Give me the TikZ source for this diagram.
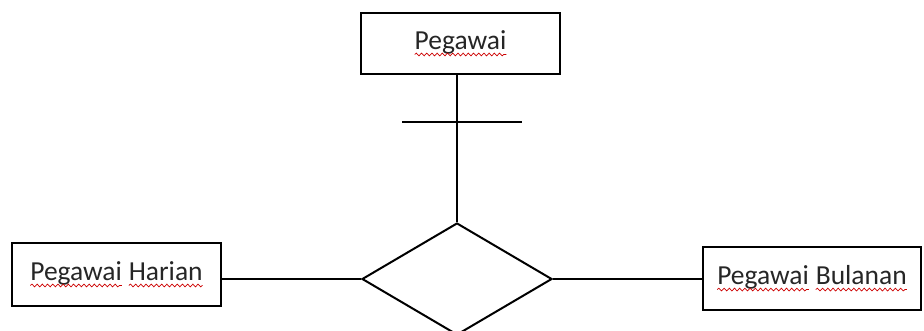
\documentclass[tikz,border=0pt]{standalone}
\usepackage{fontspec}
\setmainfont{Carlito}
\usetikzlibrary{shapes,arrows,positioning,decorations.pathmorphing}

% red spell-check squiggle under a word
\newcommand{\typo}[1]{\tikz[baseline=(w.base)]{\node[shape=rectangle, draw=none, inner sep=0pt, outer sep=0pt, minimum width=0pt, minimum height=0pt] (w) {#1};
  \draw[red!80!black,line width=0.35pt,decorate,decoration={snake,segment length=2.6pt,amplitude=0.7pt}]
    ([yshift=-2.4pt]w.base west) -- ([yshift=-2.4pt]w.base east);}}

\begin{document}
\begin{tikzpicture}[x=0.5pt,y=-0.5pt,line width=1pt,font=\fontsize{13.75pt}{16pt}\selectfont]

    % Define node styles
    \tikzstyle{entity} = [draw, rectangle, inner sep=0pt, text=black!85, text centered]
    \tikzstyle{relation} = [draw, diamond, aspect=1.7, inner sep=0pt, minimum width=95pt, minimum height=56pt]

    \useasboundingbox (0,0) rectangle (924,331);

    % Draw nodes
    \node [entity, minimum width=99.5pt, minimum height=30.5pt] (pegawai) at (460.5,43.5) {\typo{Pegawai}};
    \node [relation] (isa) at (457,279) {};
    \node [entity, minimum width=104.5pt, minimum height=31.5pt] (harian) at (116.5,274.5) {\typo{Pegawai} \typo{Harian}};
    \node [entity, minimum width=109pt, minimum height=31.5pt] (bulanan) at (812,278.5) {\typo{Pegawai} \typo{Bulanan}};

    % Draw lines
    \draw (pegawai.south -| isa.north) -- (isa.north);
    \draw (isa.west) -- (isa.west -| harian.east);
    \draw (isa.east) -- (isa.east -| bulanan.west);

    % cardinality bar
    \coordinate (bar) at (462,122);
    \draw ([xshift=-30pt]bar) -- ([xshift=30pt]bar);

\end{tikzpicture}
\end{document}
